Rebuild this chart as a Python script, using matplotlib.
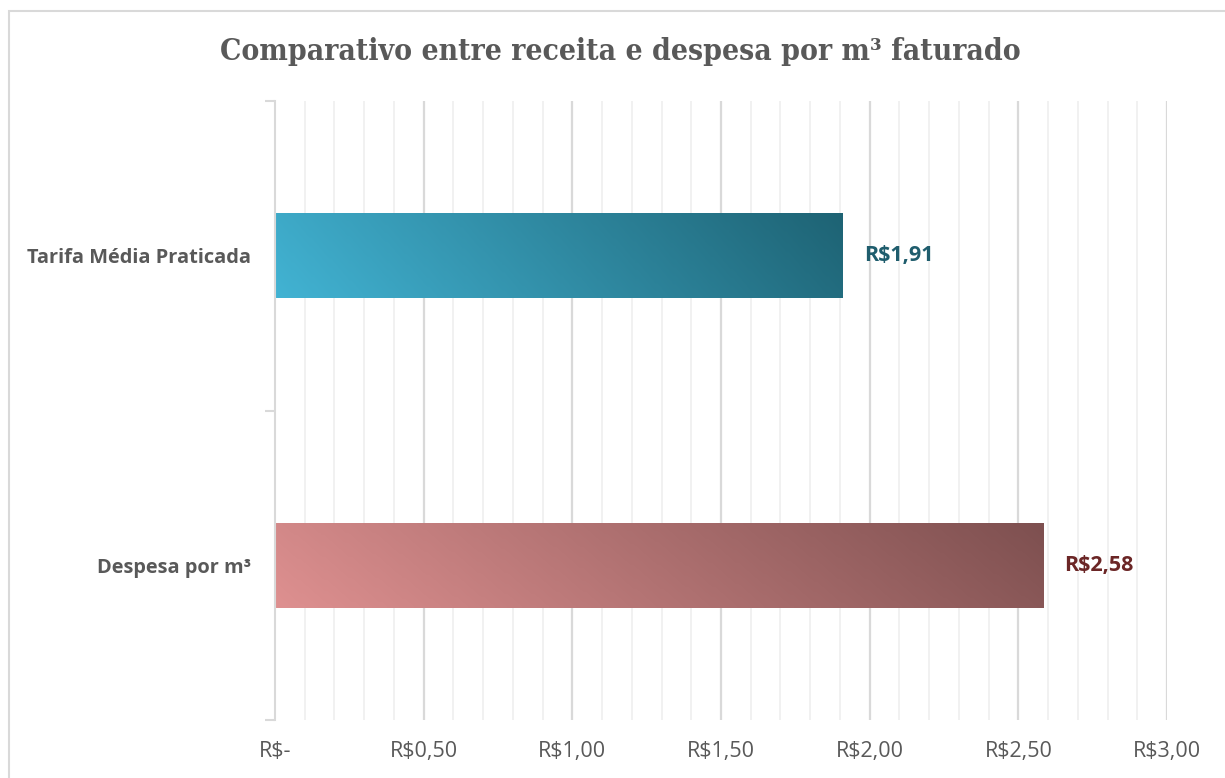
import matplotlib
matplotlib.use("Agg")
import matplotlib.pyplot as plt
import numpy as np
from matplotlib.colors import LinearSegmentedColormap
from matplotlib.patches import Rectangle

# data
categories = ["Despesa por m³", "Tarifa Média Praticada"]
values = [2.585, 1.91]
value_labels = ["R$2,58", "R$1,91"]
tick_values = [0.0, 0.5, 1.0, 1.5, 2.0, 2.5, 3.0]
tick_labels = ["R$-", "R$0,50", "R$1,00", "R$1,50", "R$2,00", "R$2,50", "R$3,00"]

GRADIENTS = [("#de9090", "#7e5050"), ("#42b3d3", "#1e6374")]
LABEL_COLORS = ["#6b2626", "#1f5d6d"]
TEXT_GREY = "#595959"
SANS = "Open Sans"

fig = plt.figure(figsize=(12.25, 7.78), dpi=100)
W, H = 1225, 778

# outer chart border (clipped on right/bottom like the reference)
fig.patches.append(Rectangle((9 / W, -0.1), 1.2, 1 - 11 / H + 0.1,
                             transform=fig.transFigure, fill=False,
                             edgecolor="#d9d9d9", lw=1.5))

ax = fig.add_axes([275 / W, 1 - 720 / H, (1167 - 275) / W, (720 - 101) / H])

# gridlines: light every 0.1, darker every 0.5
for x in np.arange(0.1, 3.0001, 0.1):
    major = abs(x / 0.5 - round(x / 0.5)) < 1e-6
    ax.axvline(x, color="#d9d9d9" if major else "#f0f0f0",
               lw=1.6 if major else 1.3, zorder=0)

bar_h = 0.274
for i, (v, (c0, c1)) in enumerate(zip(values, GRADIENTS)):
    yc = i + 0.5
    cmap = LinearSegmentedColormap.from_list(f"g{i}", [c0, c1])
    gx = np.linspace(0, 1, 256)[None, :]
    gy = np.linspace(0, 1, 32)[:, None]
    grad = np.clip(0.88 * gx + 0.12 * (1 - gy), 0, 1)
    ax.imshow(grad, cmap=cmap, aspect="auto", origin="upper",
              extent=[0, v, yc - bar_h / 2, yc + bar_h / 2],
              interpolation="bilinear", zorder=2)
    ax.text(v + 0.07, yc, value_labels[i], va="center", ha="left",
            fontsize=15.5, fontweight="bold", color=LABEL_COLORS[i], family=SANS)

ax.set_xlim(0, 3.0)
ax.set_ylim(0, 2)

for s in ["top", "right", "bottom"]:
    ax.spines[s].set_visible(False)
ax.spines["left"].set_color("#d9d9d9")
ax.spines["left"].set_linewidth(1.5)

ax.set_xticks(tick_values)
ax.set_xticklabels(tick_labels, family=SANS, fontsize=15.5, color=TEXT_GREY)
ax.tick_params(axis="x", length=0, pad=15)

ax.set_yticks([0, 1, 2])
ax.set_yticklabels([])
ax.tick_params(axis="y", which="major", length=7, width=1.5, color="#d9d9d9")
ax.set_yticks([0.5, 1.5], minor=True)
ax.set_yticklabels(categories, minor=True, family=SANS, fontsize=14.4,
                   fontweight="bold", color=TEXT_GREY)
ax.tick_params(axis="y", which="minor", length=0, pad=17)

fig.text(620 / W, 1 - 51 / H, "Comparativo entre receita e despesa por m³ faturado",
         ha="center", va="center", fontsize=21.5, fontweight="bold",
         color=TEXT_GREY, family="DejaVu Serif", fontstretch="condensed")

fig.savefig("out.png", dpi=100)
